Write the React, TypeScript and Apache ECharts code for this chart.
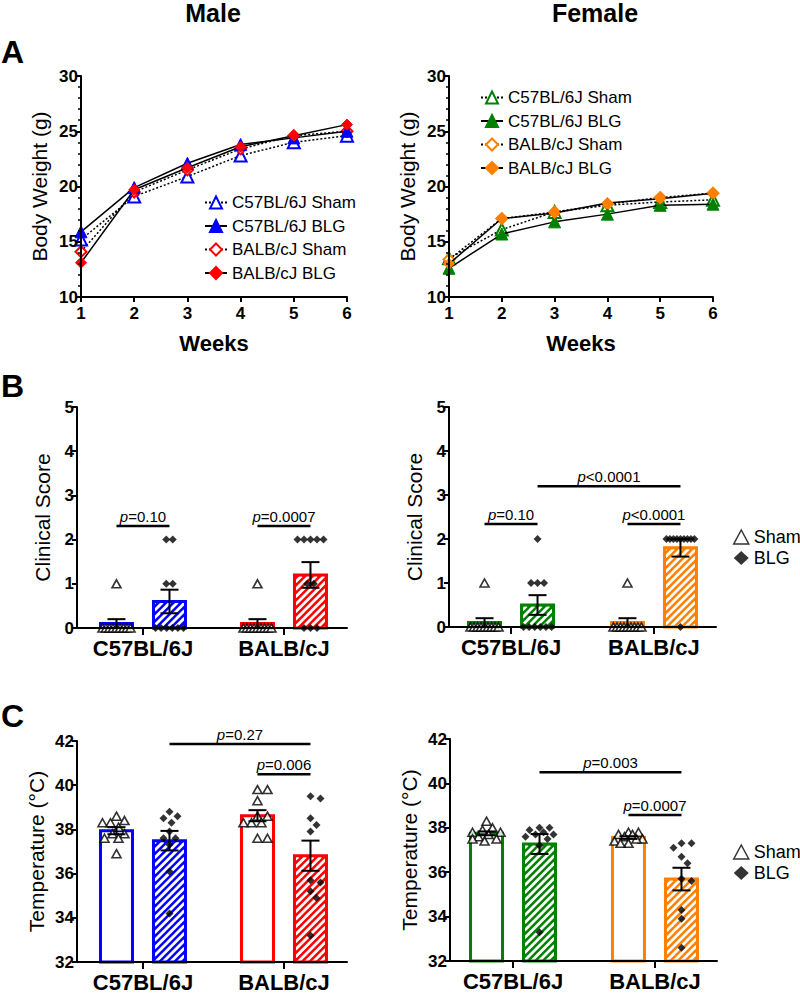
import React, { useEffect, useRef } from 'react';
import * as echarts from 'echarts';

const FONT = '"Liberation Sans", Arial, Helvetica, sans-serif';

// ---------- Panel A: body weight (g) by week ----------
const weeks = [1, 2, 3, 4, 5, 6];
const maleC57Sham = [15.2, 19.1, 20.9, 22.8, 24.0, 24.6];
const maleC57BLG = [15.9, 19.9, 22.1, 23.8, 24.4, 25.0];
const maleBALBSham = [14.1, 19.5, 21.5, 23.4, 24.6, 25.0];
const maleBALBBLG = [13.1, 19.7, 21.7, 23.6, 24.6, 25.6];
const femaleC57Sham = [13.5, 16.1, 17.7, 18.3, 18.6, 18.8];
const femaleC57BLG = [12.6, 15.7, 16.8, 17.5, 18.3, 18.4];
const femaleBALBSham = [13.4, 17.1, 17.7, 18.4, 19.0, 19.4];
const femaleBALBBLG = [13.0, 17.1, 17.6, 18.5, 18.9, 19.4];

// ---------- Panel B: clinical score per mouse ----------
const strains = ['C57BL/6J', 'BALB/cJ'];
const maleScoreC57Sham = [1, 0, 0, 0, 0, 0, 0, 0, 0, 0];
const maleScoreC57BLG = [2, 2, 1, 1, 0, 0, 0, 0, 0, 0];
const maleScoreBALBSham = [1, 0, 0, 0, 0, 0, 0, 0, 0, 0];
const maleScoreBALBBLG = [2, 2, 2, 2, 2, 1, 1, 0, 0, 0];
const femaleScoreC57Sham = [1, 0, 0, 0, 0, 0, 0, 0, 0, 0];
const femaleScoreC57BLG = [2, 1, 1, 1, 0, 0, 0, 0, 0, 0];
const femaleScoreBALBSham = [1, 0, 0, 0, 0, 0, 0, 0, 0, 0];
const femaleScoreBALBBLG = [2, 2, 2, 2, 2, 2, 2, 2, 2, 0];

// ---------- Panel C: temperature (°C) per mouse ----------
const maleTempC57Sham = [38.6, 38.4, 38.3, 38.3, 38.1, 37.8, 37.8, 37.6, 37.6, 36.9];
const maleTempC57BLG = [38.8, 38.6, 38.5, 38.3, 37.9, 37.6, 37.6, 37.3, 36.1, 34.2];
const maleTempBALBSham = [39.8, 39.8, 39.3, 38.6, 38.6, 38.3, 38.3, 38.3, 37.6, 37.6];
const maleTempBALBBLG = [39.4, 39.5, 38.5, 38.2, 37.9, 35.7, 35.6, 35.2, 34.9, 33.2];
const femaleTempC57Sham = [38.3, 38.0, 37.9, 37.8, 37.8, 37.7, 37.6, 37.5, 37.5, 37.4];
const femaleTempC57BLG = [38.0, 38.0, 37.9, 37.8, 37.7, 37.7, 37.6, 37.5, 37.2, 33.3];
const femaleTempBALBSham = [37.8, 37.8, 37.7, 37.7, 37.6, 37.5, 37.5, 37.4, 37.3, 37.3];
const femaleTempBALBBLG = [37.3, 37.3, 37.1, 36.7, 36.4, 35.7, 35.6, 34.3, 33.9, 32.6];

// ---------- significance brackets: [group1, side1, group2, side2, level] ----------
const maleScoreBrackets = [[0, -1, 0, 1, 2.31], [1, -1, 1, 1, 2.31]];
const maleScoreP = ['=0.10', '=0.0007'];
const femaleScoreBrackets = [[0, -1, 0, 1, 2.34], [1, -1, 1, 1, 2.34], [0, 1, 1, 1, 3.2]];
const femaleScoreP = ['=0.10', '<0.0001', '<0.0001'];
const maleTempBrackets = [[0, 1, 1, 1, 41.86], [1, -1, 1, 1, 40.5]];
const maleTempP = ['=0.27', '=0.006'];
const femaleTempBrackets = [[0, 1, 1, 1, 40.5], [1, -1, 1, 1, 38.58]];
const femaleTempP = ['=0.003', '=0.0007'];

const BLUE = '#0000ff';
const RED = '#ff0000';
const GREEN = '#008000';
const ORANGE = '#ff8000';

const BAR_OFF = 26.5;
const BAR_W = 32;

const mean = (a: number[]) => a.reduce((s, x) => s + x, 0) / a.length;
const sem = (a: number[]) => {
  const m = mean(a);
  return Math.sqrt(a.reduce((s, x) => s + (x - m) * (x - m), 0) / (a.length - 1)) / Math.sqrt(a.length);
};

// points with identical values laid out in a centred row
function rowOffsets(values: number[], maxSpacing: number, span: number): number[] {
  const out = new Array(values.length).fill(0);
  const groups: Record<string, number[]> = {};
  values.forEach((v, i) => {
    (groups[String(v)] = groups[String(v)] || []).push(i);
  });
  Object.values(groups).forEach((idx) => {
    const n = idx.length;
    const sp = n > 1 ? Math.min(maxSpacing, span / (n - 1)) : 0;
    idx.forEach((i, k) => (out[i] = (k - (n - 1) / 2) * sp));
  });
  return out;
}

// simple beeswarm in pixel space
function swarmOffsets(values: number[], pxPerUnit: number, d: number, step: number, limit: number): number[] {
  const order = values.map((_, i) => i).sort((a, b) => values[b] - values[a]);
  const placed: { x: number; y: number }[] = [];
  const out = new Array(values.length).fill(0);
  const cands = [0];
  for (let k = 1; k * step <= limit; k++) cands.push(k * step, -k * step);
  for (const i of order) {
    const y = values[i] * pxPerUnit;
    let best = 0;
    let bestScore = Infinity;
    for (const x of cands) {
      let minD = Infinity;
      for (const p of placed) minD = Math.min(minD, Math.hypot(p.x - x, p.y - y));
      if (minD >= d) {
        best = x;
        break;
      }
      if (d - minD < bestScore) {
        bestScore = d - minD;
        best = x;
      }
    }
    placed.push({ x: best, y });
    out[i] = best;
  }
  return out;
}

function lineSeries(name: string, data: number[], ax: number, color: string, symbol: string, open: boolean) {
  return {
    type: 'line',
    name,
    xAxisIndex: ax,
    yAxisIndex: ax,
    data: weeks.map((w, i) => [w, data[i]]),
    symbol,
    symbolSize: symbol === 'triangle' ? 12 : 11,
    showAllSymbol: true,
    silent: true,
    lineStyle: { color: '#000', width: 1.5, type: open ? [2, 2] : 'solid' },
    itemStyle: { color: open ? '#fff' : color, borderColor: color, borderWidth: open ? 2 : 1 },
    z: open ? 3 : 4,
  };
}

function barPanel(
  ax: number,
  colors: string[],
  sham: number[][],
  blg: number[][],
  base: number,
  pxPerUnit: number,
  mode: 'row' | 'swarm',
  brackets: number[][],
  pTexts: string[]
) {
  const series: any[] = [];
  const barData: number[][] = [];
  const errData: number[][] = [];
  [sham, blg].forEach((grp, k) =>
    grp.forEach((arr, g) => {
      barData.push([g, mean(arr), k === 0 ? -1 : 1]);
      errData.push([g, k === 0 ? -1 : 1, mean(arr), sem(arr)]);
    })
  );
  series.push({
    type: 'custom',
    name: 'bars',
    xAxisIndex: ax,
    yAxisIndex: ax,
    z: 2,
    silent: true,
    encode: { x: 0, y: 1 },
    data: barData,
    renderItem: (params: any, api: any) => {
      const g = api.value(0);
      const v = api.value(1);
      const s = api.value(2);
      const top = api.coord([g, v]);
      const bot = api.coord([g, base]);
      const cx = top[0] + s * BAR_OFF;
      const x0 = cx - BAR_W / 2;
      const x1 = cx + BAR_W / 2;
      const y0 = top[1];
      const y1 = bot[1];
      const color = colors[g];
      const children: any[] = [];
      if (s < 0) {
        children.push({
          type: 'rect',
          shape: { x: x0, y: y0, width: BAR_W, height: y1 - y0 },
          style: { fill: '#fff', stroke: color, lineWidth: 3 },
        });
      } else {
        children.push({
          type: 'rect',
          shape: { x: x0, y: y0, width: BAR_W, height: y1 - y0 },
          style: { fill: color, stroke: null },
        });
        const P = 7.5;
        const ix0 = x0 + 1;
        const ix1 = x1 - 1;
        const iy0 = y0 + 1;
        const iy1 = y1;
        let c = Math.ceil((ix0 + iy0) / P) * P;
        for (; c < ix1 + iy1; c += P) {
          const xa = Math.max(ix0, c - iy1);
          const xb = Math.min(ix1, c - iy0);
          if (xb > xa) {
            children.push({
              type: 'line',
              shape: { x1: xa, y1: c - xa, x2: xb, y2: c - xb },
              style: { stroke: '#fff', lineWidth: 2.8 },
            });
          }
        }
        children.push({
          type: 'rect',
          shape: { x: x0, y: y0, width: BAR_W, height: y1 - y0 },
          style: { fill: null, stroke: color, lineWidth: 3 },
        });
      }
      return { type: 'group', children };
    },
  });

  [sham, blg].forEach((grp, k) => {
    const data: any[] = [];
    grp.forEach((arr, g) => {
      const offs = mode === 'row' ? rowOffsets(arr, 6.5, 28) : swarmOffsets(arr, pxPerUnit, 8.5, 2, 14);
      arr.forEach((v, i) =>
        data.push({ value: [g, v], symbolOffset: [(k === 0 ? -1 : 1) * BAR_OFF + offs[i], 0] })
      );
    });
    series.push({
      type: 'scatter',
      name: k === 0 ? 'Sham' : 'BLG',
      xAxisIndex: ax,
      yAxisIndex: ax,
      z: 3,
      silent: true,
      data,
      symbol: k === 0 ? 'triangle' : 'diamond',
      symbolSize: k === 0 ? [9, 8] : [8, 8],
      itemStyle: k === 0 ? { color: '#fff', borderColor: '#000', borderWidth: 1.6 } : { color: '#000' },
    });
  });

  series.push({
    type: 'custom',
    name: 'sem',
    xAxisIndex: ax,
    yAxisIndex: ax,
    z: 4,
    silent: true,
    encode: { x: 0, y: 2 },
    data: errData,
    renderItem: (params: any, api: any) => {
      const g = api.value(0);
      const s = api.value(1);
      const m = api.value(2);
      const e = api.value(3);
      const pt = api.coord([g, m + e]);
      const pb = api.coord([g, Math.max(base, m - e)]);
      const cx = pt[0] + s * BAR_OFF;
      const st = { stroke: '#000', lineWidth: 2 };
      return {
        type: 'group',
        children: [
          { type: 'line', shape: { x1: cx, y1: pt[1], x2: cx, y2: pb[1] }, style: st },
          { type: 'line', shape: { x1: cx - 9, y1: pt[1], x2: cx + 9, y2: pt[1] }, style: st },
          { type: 'line', shape: { x1: cx - 9, y1: pb[1], x2: cx + 9, y2: pb[1] }, style: st },
        ],
      };
    },
  });

  series.push({
    type: 'custom',
    name: 'p',
    xAxisIndex: ax,
    yAxisIndex: ax,
    z: 4,
    silent: true,
    encode: { x: 0, y: 4 },
    data: brackets,
    renderItem: (params: any, api: any) => {
      const y = api.value(4);
      const a = api.coord([api.value(0), y]);
      const b = api.coord([api.value(2), y]);
      const xa = a[0] + api.value(1) * BAR_OFF;
      const xb = b[0] + api.value(3) * BAR_OFF;
      return {
        type: 'group',
        children: [
          { type: 'line', shape: { x1: xa, y1: a[1], x2: xb, y2: a[1] }, style: { stroke: '#000', lineWidth: 2.5 } },
          {
            type: 'text',
            x: (xa + xb) / 2,
            y: a[1] - 2,
            style: {
              text: '{i|p}' + pTexts[params.dataIndex],
              rich: { i: { fontStyle: 'italic', fontSize: 15, fontFamily: FONT, fill: '#000' } },
              fontSize: 15,
              fontFamily: FONT,
              fill: '#000',
              align: 'center',
              verticalAlign: 'bottom',
            },
          },
        ],
      };
    },
  });
  return series;
}

const axisLineStyle = { color: '#000', width: 2 };
const tickLabel = { color: '#000', fontSize: 17, fontWeight: 'bold', fontFamily: FONT };

function yAxis(grid: number, min: number, max: number, interval: number, name: string, nameGap: number, minor: boolean) {
  return {
    type: 'value',
    gridIndex: grid,
    min,
    max,
    interval,
    name,
    nameLocation: 'middle',
    nameGap,
    nameTextStyle: { color: '#000', fontSize: 21, fontFamily: FONT },
    axisLine: { show: true, onZero: false, lineStyle: axisLineStyle },
    axisTick: { show: true, length: 5, lineStyle: axisLineStyle },
    minorTick: { show: minor, splitNumber: 5, length: 3, lineStyle: { color: '#000', width: 1.5 } },
    axisLabel: { ...tickLabel, margin: 3 },
    splitLine: { show: false },
    minorSplitLine: { show: false },
    z: 10,
  };
}

function weekAxis(grid: number) {
  return {
    type: 'value',
    gridIndex: grid,
    min: 1,
    max: 6,
    interval: 1,
    name: 'Weeks',
    nameLocation: 'middle',
    nameGap: 35,
    nameTextStyle: { color: '#000', fontSize: 22, fontWeight: 'bold', fontFamily: FONT },
    axisLine: { show: true, onZero: false, lineStyle: axisLineStyle },
    axisTick: { show: true, length: 5, lineStyle: axisLineStyle },
    axisLabel: { ...tickLabel, margin: 8 },
    splitLine: { show: false },
    z: 10,
  };
}

function strainAxis(grid: number, min: number, max: number) {
  return {
    type: 'value',
    gridIndex: grid,
    min,
    max,
    axisLine: { show: true, onZero: false, lineStyle: axisLineStyle },
    axisTick: { show: true, customValues: [0, 1], length: 7, lineStyle: axisLineStyle },
    axisLabel: {
      customValues: [0, 1],
      formatter: (v: number) => strains[Math.round(v)],
      color: '#000',
      fontSize: 22,
      fontWeight: 'bold',
      fontFamily: FONT,
      margin: 9,
    },
    splitLine: { show: false },
    z: 10,
  };
}

function buildOption() {
  const grids = [
    { left: 81, top: 76, width: 266, height: 221 },
    { left: 449, top: 76, width: 264, height: 221 },
    { left: 77, top: 407, width: 270, height: 221 },
    { left: 449, top: 407, width: 267, height: 220 },
    { left: 77, top: 741, width: 270, height: 221 },
    { left: 450, top: 739, width: 267, height: 222 },
  ].map((g) => ({ ...g, containLabel: false, outerBoundsMode: 'none' }));

  const maleNames = ['M|C57BL/6J Sham', 'M|C57BL/6J BLG', 'M|BALB/cJ Sham', 'M|BALB/cJ BLG'];
  const femaleNames = ['F|C57BL/6J Sham', 'F|C57BL/6J BLG', 'F|BALB/cJ Sham', 'F|BALB/cJ BLG'];

  const series: any[] = [
    lineSeries(maleNames[0], maleC57Sham, 0, BLUE, 'triangle', true),
    lineSeries(maleNames[1], maleC57BLG, 0, BLUE, 'triangle', false),
    lineSeries(maleNames[2], maleBALBSham, 0, RED, 'diamond', true),
    lineSeries(maleNames[3], maleBALBBLG, 0, RED, 'diamond', false),
    lineSeries(femaleNames[0], femaleC57Sham, 1, GREEN, 'triangle', true),
    lineSeries(femaleNames[1], femaleC57BLG, 1, GREEN, 'triangle', false),
    lineSeries(femaleNames[2], femaleBALBSham, 1, ORANGE, 'diamond', true),
    lineSeries(femaleNames[3], femaleBALBBLG, 1, ORANGE, 'diamond', false),
    ...barPanel(2, [BLUE, RED], [maleScoreC57Sham, maleScoreBALBSham], [maleScoreC57BLG, maleScoreBALBBLG], 0, 44.2, 'row', maleScoreBrackets, maleScoreP),
    ...barPanel(3, [GREEN, ORANGE], [femaleScoreC57Sham, femaleScoreBALBSham], [femaleScoreC57BLG, femaleScoreBALBBLG], 0, 44, 'row', femaleScoreBrackets, femaleScoreP),
    ...barPanel(4, [BLUE, RED], [maleTempC57Sham, maleTempBALBSham], [maleTempC57BLG, maleTempBALBBLG], 32, 22.1, 'swarm', maleTempBrackets, maleTempP),
    ...barPanel(5, [GREEN, ORANGE], [femaleTempC57Sham, femaleTempBALBSham], [femaleTempC57BLG, femaleTempBALBBLG], 32, 22.2, 'swarm', femaleTempBrackets, femaleTempP),
  ];

  const lineLegend = (names: string[], left: number, top: number) => ({
    data: names,
    left,
    top,
    orient: 'vertical',
    padding: 0,
    itemWidth: 22,
    itemHeight: 15,
    itemGap: 6.5,
    selectedMode: false,
    formatter: (n: string) => n.slice(2),
    textStyle: { fontSize: 17, fontFamily: FONT, color: '#000' },
  });
  const groupLegend = (top: number) => ({
    data: [
      { name: 'Sham', icon: 'triangle', itemStyle: { color: '#fff', borderColor: '#000', borderWidth: 1.5 } },
      { name: 'BLG', icon: 'diamond', itemStyle: { color: '#000', borderWidth: 0 } },
    ],
    left: 733,
    top,
    orient: 'vertical',
    padding: 0,
    itemWidth: 15,
    itemHeight: 14,
    itemGap: 3,
    selectedMode: false,
    textStyle: { fontSize: 18, fontFamily: FONT, color: '#000' },
  });

  const label = (text: string, x: number, y: number, size: number, align: string, vAlign: string) => ({
    type: 'text',
    x,
    y,
    silent: true,
    style: { text, fontSize: size, fontWeight: 'bold', fontFamily: FONT, fill: '#000', align, verticalAlign: vAlign },
  });

  return {
    animation: false,
    backgroundColor: '#fff',
    textStyle: { fontFamily: FONT },
    grid: grids,
    xAxis: [weekAxis(0), weekAxis(1), strainAxis(2, -0.468, 1.447), strainAxis(3, -0.434, 1.434), strainAxis(4, -0.468, 1.447), strainAxis(5, -0.444, 1.437)],
    yAxis: [
      yAxis(0, 10, 30, 5, 'Body Weight (g)', 31, true),
      yAxis(1, 10, 30, 5, 'Body Weight (g)', 31, true),
      yAxis(2, 0, 5, 1, 'Clinical Score', 24, false),
      yAxis(3, 0, 5, 1, 'Clinical Score', 24, false),
      yAxis(4, 32, 42, 2, 'Temperature (°C)', 30, false),
      yAxis(5, 32, 42, 2, 'Temperature (°C)', 30, false),
    ],
    legend: [lineLegend(maleNames, 204, 194), lineLegend(femaleNames, 480, 89), groupLegend(528), groupLegend(843)],
    graphic: [
      label('Male', 213, 0, 25, 'center', 'top'),
      label('Female', 595, 0, 25, 'center', 'top'),
      label('A', 1, 52, 32, 'left', 'middle'),
      label('B', 1, 386, 32, 'left', 'middle'),
      label('C', 1, 716, 32, 'left', 'middle'),
    ],
    series,
  };
}

export default function App() {
  const ref = useRef<HTMLDivElement>(null);
  useEffect(() => {
    document.body.style.margin = '0';
    if (!ref.current) return;
    const chart = echarts.init(ref.current, undefined, { renderer: 'svg' });
    chart.setOption(buildOption() as any);
    return () => chart.dispose();
  }, []);
  return <div ref={ref} style={{ width: 800, height: 994 }} />;
}
